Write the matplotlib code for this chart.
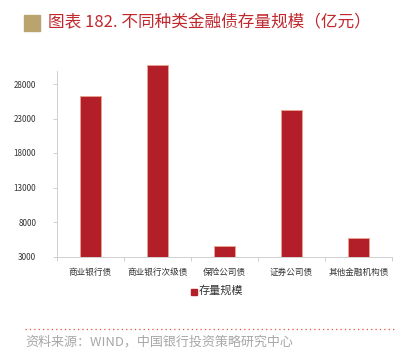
import matplotlib
matplotlib.use("Agg")
import matplotlib.pyplot as plt
from matplotlib.patches import Rectangle
from matplotlib.lines import Line2D

plt.rcParams['font.family'] = ['Noto Sans CJK SC', 'DejaVu Sans']

categories = ['商业银行债', '商业银行次级债', '保险公司债', '证券公司债', '其他金融机构债']
values = [26300, 30700, 4520, 24230, 5640]
yticks = [3000, 8000, 13000, 18000, 23000, 28000]
series_name = '存量规模'
title = '图表 182. 不同种类金融债存量规模（亿元）'
source = '资料来源：WIND，中国银行投资策略研究中心'

W, H = 406, 357
fig = plt.figure(figsize=(W/100, H/100), dpi=100)

ax_left, ax_right = 57, 392
ax_bottom = 256.5
ymin, ymax = 3000, 31000
px_per = 0.0069
ax_top = ax_bottom - (ymax - ymin) * px_per
ax = fig.add_axes([ax_left/W, 1 - ax_bottom/H, (ax_right-ax_left)/W, (ax_bottom-ax_top)/H])

bar_color = '#B31F28'
x = list(range(len(categories)))
ax.bar(x, [v - ymin for v in values], bottom=ymin, width=0.32, color=bar_color,
       edgecolor='#E9A58F', linewidth=0.6, zorder=3)
ax.set_xlim(-0.5, len(categories) - 0.5)
ax.set_ylim(ymin, ymax)

ax.set_yticks(yticks)
ax.set_yticklabels([str(t) for t in yticks], fontsize=5.8, color='#333333')
ax.set_xticks(x)
ax.set_xticklabels(categories, fontsize=6.2, color='#333333')
ax.tick_params(axis='x', length=0, pad=8)
ax.tick_params(axis='y', length=3, width=0.6, color='#C8C8C8', pad=12)
ax.set_xticks([i - 0.5 for i in range(len(categories) + 1)], minor=True)
ax.tick_params(axis='x', which='minor', length=3, width=0.6, color='#C8C8C8')

for s in ['top', 'right']:
    ax.spines[s].set_visible(False)
for s in ['left', 'bottom']:
    ax.spines[s].set_color('#D0D0D0')
    ax.spines[s].set_linewidth(0.7)
ax.spines['left'].set_bounds(ymin, 29900)

# legend
fig.patches.append(Rectangle((191/W, 1-295/H), 6/W, 6/H, transform=fig.transFigure,
                             color=bar_color, zorder=5))
fig.text(199/W, 1-291/H, series_name, fontsize=8, color='#333333', va='center', ha='left')

# title
fig.patches.append(Rectangle((24/W, 1-31/H), 16/W, 16/H, transform=fig.transFigure,
                             color='#B8A46C', zorder=5))
fig.text(48/W, 1-23/H, title, fontsize=12, color='#C0282D', va='center', ha='left')

# footer
fig.add_artist(Line2D([25/W, 396/W], [1-329/H, 1-329/H], transform=fig.transFigure,
                      color='#E0503C', linestyle=(0, (1, 2.5)), linewidth=0.9))
fig.text(25/W, 1-342/H, source, fontsize=9.4, color='#A8A8A8', va='center', ha='left')

fig.savefig('out.png', dpi=100)
